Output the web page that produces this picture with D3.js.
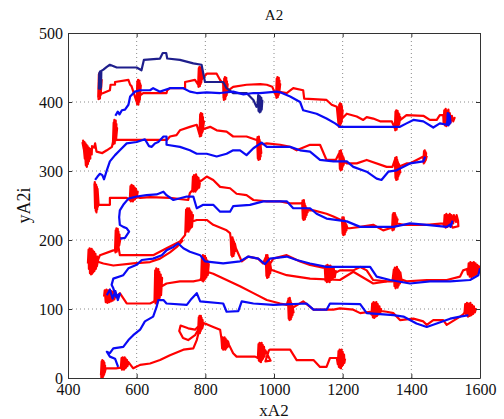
<!DOCTYPE html>
<html><head><meta charset="utf-8">
<script src="https://cdn.jsdelivr.net/npm/d3@7"></script>
<style>body{margin:0;background:#fff}svg{display:block} text{font-family:"Liberation Serif","Times New Roman",serif}</style>
</head><body>
<script>
// ---------- data (x, y in axis units) ----------
const xTicks = [400, 600, 800, 1000, 1200, 1400, 1600];
const yTicks = [0, 100, 200, 300, 400, 500];
const titleText = "A2", xLabelText = "xA2", yLabelText = "yA2i";

const redA = [[488,406],[490,440],[489,404],[492,442],[491,407],[494,438],[493,405],[496,436],[495,410],[498,432],[494,414],[490,430],[497,412],
[503,413],[522,417],[524,425],[537,425],[537,429],[576,432],[581,425],[585,423],
[600,400],[602,430],[601,397],[604,432],[603,399],[606,429],[605,396],[608,431],[607,400],[610,427],[609,403],[612,424],[606,405],[603,420],[611,410],
[619,413],[687,413],[689,417],[697,420],[741,420],[741,429],[770,432],
[779,425],[781,449],[780,422],[783,451],[782,424],[785,448],[784,423],[787,450],[786,426],[789,446],[788,428],[791,442],[785,430],
[804,441],[833,441],[843,432],[852,427],
[853,406],[855,434],[854,403],[857,436],[856,405],[859,433],[858,404],[861,435],[860,408],[863,430],[862,410],[865,426],[859,414],
[881,422],[920,425],[960,426],[979,425],[995,422],
[1006,409],[1008,434],[1007,406],[1010,436],[1009,408],[1012,433],[1011,407],[1014,435],[1013,410],[1016,431],[1015,412],[1018,426],[1012,415],
[1037,413],[1056,420],[1085,417],[1088,405],[1153,403],[1168,396],[1183,393],
[1188,368],[1190,396],[1189,364],[1192,398],[1191,366],[1194,395],[1193,365],[1196,397],[1195,369],[1198,393],[1197,371],[1200,388],[1194,374],
[1212,383],[1241,379],[1260,374],[1270,378],[1289,376],[1309,372],[1343,372],
[1352,362],[1354,386],[1353,359],[1356,388],[1355,361],[1358,385],[1357,360],[1360,387],[1359,363],[1362,384],[1361,365],[1365,382],[1364,367],[1368,378],[1358,370],
[1386,381],[1435,380],[1454,374],[1474,374],[1483,381],[1493,381],
[1494,370],[1496,388],[1498,366],[1500,390],[1502,365],[1504,387],[1506,367],[1508,389],[1510,368],[1512,384],[1514,370],[1518,380],[1522,372],[1526,377],[1516,374],[1506,376]];

const redB = [[442,342],[446,332],[444,344],[449,318],[448,342],[452,308],[451,340],[455,306],[454,338],[458,310],[457,336],[461,314],[460,334],[465,318],[464,332],[469,324],[470,336],[476,334],
[479,340],[483,328],[500,326],[513,330],[528,335],
[531,342],[533,370],[532,339],[535,374],[534,341],[537,371],[536,340],[539,373],[538,344],[541,368],[540,346],[543,362],[537,350],
[542,345],[551,345],[600,345],[658,345],[688,345],[697,350],[716,352],[726,359],[755,364],[775,367],
[783,353],[785,382],[784,350],[787,384],[786,352],[789,381],[788,351],[791,383],[790,355],[793,378],[792,357],[796,372],[790,360],
[814,364],[833,359],[862,357],[881,350],[920,350],[949,345],
[951,346],[953,318],[952,349],[955,316],[954,347],[957,319],[956,350],[959,317],[958,345],[961,321],[960,342],[963,326],[957,338],
[979,340],[1018,338],[1047,335],[1066,330],[1105,338],[1134,338],[1153,316],[1180,316],
[1190,326],[1192,303],[1191,329],[1194,301],[1193,327],[1196,304],[1195,330],[1198,302],[1197,326],[1200,306],[1199,323],[1203,309],[1202,320],[1206,312],[1197,316],
[1212,311],[1241,311],[1270,316],[1328,306],[1345,306],
[1352,316],[1354,290],[1353,319],[1356,287],[1355,317],[1358,291],[1357,320],[1360,288],[1359,316],[1362,292],[1361,313],[1365,295],[1364,310],[1368,298],[1358,305],
[1386,311],[1396,311],[1435,321],
[1435,313],[1437,329],[1436,311],[1439,330],[1438,312],[1441,328],[1440,314],[1443,326],[1442,316],[1445,322]];

const redC = [[477,282],[479,246],[478,284],[481,242],[480,281],[483,240],[482,280],[485,244],[484,277],[487,248],[486,274],[489,252],[484,268],
[487,251],[522,251],[522,261],[571,261],
[580,258],[582,278],[583,256],[585,280],[586,257],[588,279],[589,256],[591,278],[592,258],[594,276],[595,259],[598,274],[600,261],[603,270],[590,264],
[610,261],[639,262],[697,261],[750,258],[755,268],
[762,272],[764,292],[765,270],[767,294],[768,271],[770,293],[771,270],[773,295],[774,272],[776,292],[777,274],[780,290],[782,276],[785,286],[772,280],
[804,292],[823,287],[843,277],[872,275],[891,267],[920,265],[940,258],[979,256],[1018,256],[1047,253],[1076,253],
[1082,254],[1084,231],[1083,257],[1086,229],[1085,255],[1088,232],[1087,258],[1090,230],[1089,253],[1092,233],[1091,250],[1095,236],[1094,247],[1098,240],[1088,244],
[1115,243],[1153,238],[1173,234],[1195,229],
[1198,230],[1200,209],[1199,233],[1202,207],[1201,231],[1204,210],[1203,233],[1206,208],[1205,229],[1208,211],[1207,226],[1211,214],[1210,223],[1214,217],
[1221,217],[1251,219],[1289,222],[1318,214],[1338,217],
[1344,217],[1346,237],[1345,214],[1348,239],[1347,216],[1350,238],[1349,215],[1352,239],[1351,218],[1354,236],[1353,220],[1357,233],[1356,222],[1360,230],[1350,225],
[1377,222],[1445,222],[1493,224],
[1495,220],[1497,236],[1500,218],[1502,238],[1505,219],[1507,236],[1510,220],[1512,238],[1515,222],[1517,236],[1522,224],[1524,236],[1530,226],[1532,236],[1536,228],[1537,220],[1520,218],[1510,228]];

const redD = [[458,166],[460,186],[461,158],[463,188],[464,152],[466,186],[467,150],[469,187],[470,151],[472,185],[473,153],[476,183],[477,155],[480,180],[481,158],[485,176],[484,162],[488,172],
[493,178],[532,185],
[537,185],[539,214],[538,182],[541,217],[540,184],[543,215],[542,183],[545,216],[544,187],[547,212],[546,189],[550,208],[549,192],[553,203],[545,196],
[551,178],[600,178],[648,178],[687,188],[726,198],[741,207],
[742,214],[744,244],[745,212],[747,246],[748,213],[750,245],[751,212],[753,246],[754,215],[756,243],[757,217],[760,240],[761,219],[764,236],[752,225],
[775,229],[804,229],[823,222],[862,214],[872,210],
[874,202],[876,178],[875,204],[878,176],[877,203],[880,179],[879,204],[882,177],[881,201],[884,180],[883,198],[887,184],[886,195],[889,188],
[906,169],[925,176],[954,173],[968,166],
[976,175],[978,148],[977,178],[980,145],[979,176],[982,147],[981,178],[984,146],[983,174],[986,149],[985,171],[989,152],[988,168],[992,156],[984,162],
[998,173],[1037,178],[1076,169],[1105,164],[1143,160],
[1148,160],[1150,141],[1152,163],[1154,139],[1156,164],[1158,140],[1160,162],[1162,139],[1164,163],[1166,142],[1168,161],[1171,144],[1174,159],[1177,146],[1180,155],[1170,150],
[1192,156],[1231,156],[1251,161],[1270,156],[1289,142],[1328,140],[1345,140],
[1349,157],[1351,133],[1352,160],[1354,130],[1355,159],[1357,132],[1358,161],[1360,131],[1361,158],[1363,134],[1364,156],[1367,137],[1368,153],[1372,140],[1360,145],
[1386,140],[1445,142],[1503,142],[1542,147],[1551,156],[1562,158],
[1565,150],[1567,166],[1570,147],[1572,168],[1575,146],[1577,167],[1580,148],[1582,168],[1585,149],[1587,166],[1590,150],[1592,164],[1595,152],[1597,162],[1600,156],[1588,157]];

const redE = [[478,170],[503,166],[532,163],[590,166],[639,168],[668,173],[697,182],[717,190],[735,200]];

const redF = [[505,118],[507,127],[510,110],[512,128],[515,109],[517,127],[520,110],[522,128],[525,111],[527,126],[530,112],[532,125],[535,114],[537,122],[540,117],
[551,123],[571,108],[639,108],[648,110],
[652,112],[654,156],[655,108],[657,159],[658,110],[660,157],[661,109],[663,158],[664,113],[666,154],[667,116],[670,150],[671,120],[674,145],[663,130],
[687,137],[726,140],[765,140],[785,142],
[788,145],[790,175],[791,141],[793,178],[794,140],[796,176],[797,142],[799,177],[800,144],[802,174],[803,146],[806,170],[807,149],[810,165],[798,155],
[823,151],[862,142],[901,133],[940,123],[979,113],[1018,108],[1037,106],
[1041,112],[1043,86],[1042,115],[1045,84],[1044,114],[1047,87],[1046,116],[1049,85],[1048,112],[1051,88],[1050,109],[1054,91],[1053,106],[1057,95],[1048,100],
[1085,111],[1115,99],[1173,99],[1192,101],[1231,99],[1251,94],[1280,96],
[1284,92],[1286,108],[1288,88],[1290,110],[1292,87],[1294,109],[1296,89],[1298,110],[1300,90],[1302,107],[1304,92],[1307,104],[1309,94],[1312,100],[1298,98],
[1328,96],[1348,94],[1367,84],[1406,86],[1435,82],[1445,77],[1464,84],[1493,84],[1503,77],[1542,89],[1551,92],
[1555,95],[1557,107],[1560,91],[1562,109],[1565,89],[1567,108],[1570,90],[1572,109],[1575,91],[1577,106],[1580,93],[1582,104],[1585,95],[1588,100],[1572,98]];

const redG = [[985,158],[1037,149],[1105,144],[1192,142],[1231,154],[1289,137],[1328,140]];

const redH = [[496,4],[498,24],[497,1],[500,26],[499,2],[502,25],[501,0],[504,24],[503,3],[506,22],[505,5],[508,18],[507,8],[510,14],
[540,14],
[554,15],[556,29],[557,12],[559,30],[560,13],[562,29],[563,12],[565,30],[566,14],[568,28],[569,15],[572,26],[573,17],[576,23],
[590,14],[610,19],[639,21],[668,26],[697,33],[736,41],[765,43],[775,55],[780,65],
[779,68],[781,88],[780,65],[783,90],[782,66],[785,89],[784,65],[787,90],[786,68],[789,87],[788,70],[792,84],[791,72],[795,80],
[785,75],[770,62],[750,55],[735,58],[724,68],[728,76],[750,72],[770,70],[790,80],
[804,78],[823,74],[843,70],
[847,57],[849,43],[850,59],[852,41],[853,58],[855,42],[856,59],[858,41],[859,57],[861,43],[862,55],[865,45],[866,53],[869,48],
[881,36],[891,31],[945,31],
[953,29],[955,49],[956,25],[958,51],[959,24],[961,50],[962,23],[964,51],[965,26],[967,48],[968,28],[971,45],[972,31],[975,40],
[990,25],[975,24],[985,40],
[988,41],[1047,41],[1066,26],[1115,26],[1134,16],[1153,16],[1163,29],[1183,29],
[1186,20],[1188,39],[1189,16],[1191,41],[1192,15],[1194,40],[1195,14],[1197,41],[1198,17],[1200,38],[1201,19],[1204,34],[1205,22],[1207,28]];

const navyA = [[490,418],[491,442],[492,420],[493,444],[494,419],[495,440],[496,421],[497,443],[492,430],
[494,444],[503,447],[513,451],[522,454],[542,450],[600,450],[614,446],[621,461],[668,463],[676,471],[686,471],[689,463],[726,461],[765,456],[789,454],[799,429],[852,429],[862,420],[881,413],[920,413],[940,403],[949,393],
[952,395],[954,410],[955,387],[957,409],[958,385],[960,408],[961,386],[963,406],[964,389],[966,402],[960,395]];

const blueB = [[538,380],[545,386],[550,382],[557,388],[566,389],[576,396],[581,408],[595,415],[610,417],[639,417],[648,420],[668,415],[697,420],[726,420],[736,420],[755,415],[775,413],[804,414],[843,413],[881,415],[911,411],[940,413],[959,413],[1008,415],[1018,414],[1047,408],[1076,400],[1085,388],[1124,383],[1153,376],[1178,369],[1192,364],[1299,364],[1367,364],[1386,369],[1406,374],[1435,372],[1464,363],[1483,369],[1503,367],[1508,381],
[1505,372],[1506,384],[1508,366],[1509,383],[1511,368],[1512,380],[1514,370],[1508,375]];

const blueC = [[479,287],[486,292],[493,296],[500,294],[505,288],[513,301],[522,314],[537,323],[551,330],[571,340],[600,342],[624,346],[636,336],[644,335],[653,340],[663,342],[678,350],[687,350],[687,338],[726,335],[755,330],[775,325],[804,325],[833,321],[862,325],[881,330],[901,330],[920,323],[940,333],[964,341],[979,335],[1047,335],[1076,330],[1105,328],[1134,316],[1173,314],[1212,314],[1231,306],[1270,299],[1299,289],[1313,287],[1333,299],[1357,301],[1396,311],[1435,314],[1440,321]];

const blueD = [[552,202],[566,203],[578,212],[571,217],[561,219],[551,222],[549,233],[551,243],[561,251],[576,260],[600,263],[629,265],[658,266],[678,270],[687,265],[707,258],[746,263],[765,263],[775,246],[794,251],[823,251],[843,241],[872,241],[881,249],[930,251],[969,256],[1037,256],[1056,246],[1105,246],[1124,238],[1153,231],[1212,227],[1251,219],[1348,219],[1396,224],[1445,222],[1503,219],[1518,224],[1514,219],[1520,228]];

const blueE = [[513,120],[522,128],[530,115],[538,126],[545,113],[551,122],[540,118],[532,130],[527,135],[532,144],[561,149],[576,159],[600,164],[615,171],[648,173],[673,178],[687,185],[707,190],[721,195],[736,188],[755,183],[785,178],[799,169],[852,166],[901,169],[925,176],[954,173],[974,165],[988,173],[1037,176],[1066,171],[1105,166],[1153,161],[1221,161],[1280,161],[1299,147],[1338,142],[1396,137],[1454,140],[1513,140],[1571,142],[1595,149],[1600,159]];

const blueF = [[546,16],[537,28],[522,31],[513,38],[522,36],[532,43],[561,45],[576,55],[590,62],[610,70],[624,82],[648,89],[658,103],[663,113],[678,113],[687,108],[746,106],[760,115],[775,123],[785,111],[852,108],[862,96],[896,97],[906,111],[940,108],[998,106],[1095,108],[1115,99],[1153,99],[1163,108],[1251,107],[1270,94],[1348,91],[1377,89],[1415,79],[1445,74],[1474,79],[1513,86],[1542,89],[1566,91]];

const redSeries = [redA, redB, redC, redD, redE, redF, redG, redH];
const blueSeries = [blueB, blueC, blueD, blueE, blueF];
const navySeries = [navyA];

// ---------- drawing ----------
const W = 504, H = 419;
const m = {left: 68, right: 24, top: 33, bottom: 41};
const svg = d3.select("body").append("svg").attr("width", W).attr("height", H);
const x = d3.scaleLinear().domain([400, 1600]).range([m.left, W - m.right]);
const y = d3.scaleLinear().domain([0, 500]).range([H - m.bottom, m.top]);
const font = "Liberation Serif, Times New Roman, serif";

// grid
const g = svg.append("g");
g.selectAll(".gx").data(xTicks.slice(1, -1)).enter().append("line")
  .attr("x1", d => x(d)).attr("x2", d => x(d)).attr("y1", y(0)).attr("y2", y(500))
  .attr("stroke", "#8a8a8a").attr("stroke-width", 1).attr("stroke-dasharray", "1,3");
g.selectAll(".gy").data(yTicks.slice(1, -1)).enter().append("line")
  .attr("y1", d => y(d)).attr("y2", d => y(d)).attr("x1", x(400)).attr("x2", x(1600))
  .attr("stroke", "#8a8a8a").attr("stroke-width", 1).attr("stroke-dasharray", "1,3");

svg.append("clipPath").attr("id", "clip").append("rect")
  .attr("x", x(400)).attr("y", y(500)).attr("width", x(1600) - x(400)).attr("height", y(0) - y(500));

const line = d3.line().x(d => x(d[0])).y(d => y(d[1]));
const plot = svg.append("g").attr("clip-path", "url(#clip)");
plot.selectAll(".r").data(redSeries).enter().append("path")
  .attr("d", line).attr("fill", "none").attr("stroke", "#ff0000").attr("stroke-width", 2.2)
  .attr("stroke-linejoin", "round");
plot.selectAll(".n").data(navySeries).enter().append("path")
  .attr("d", line).attr("fill", "none").attr("stroke", "#1e1e8c").attr("stroke-width", 2.2)
  .attr("stroke-linejoin", "round");
plot.selectAll(".b").data(blueSeries).enter().append("path")
  .attr("d", line).attr("fill", "none").attr("stroke", "#0a0af5").attr("stroke-width", 2.2)
  .attr("stroke-linejoin", "round");

// axes (MATLAB box style, inward ticks)
const fmt = d3.format("d");
const axB = d3.axisBottom(x).tickValues(xTicks).tickFormat(fmt).tickSizeInner(-4).tickSizeOuter(0).tickPadding(6);
const axT = d3.axisTop(x).tickValues(xTicks).tickSizeInner(-4).tickSizeOuter(0).tickFormat("");
const axL = d3.axisLeft(y).tickValues(yTicks).tickFormat(fmt).tickSizeInner(-4).tickSizeOuter(0).tickPadding(5);
const axR = d3.axisRight(y).tickValues(yTicks).tickSizeInner(-4).tickSizeOuter(0).tickFormat("");
function style(sel) {
  sel.attr("font-family", font).attr("font-size", 16);
  sel.selectAll("path").attr("stroke", "#333").attr("stroke-width", 1);
  sel.selectAll("line").attr("stroke", "#333");
  sel.selectAll("text").attr("fill", "#111").attr("font-family", font).attr("font-size", 16);
}
svg.append("g").attr("transform", `translate(0,${y(0)})`).call(axB).call(style);
svg.append("g").attr("transform", `translate(0,${y(500)})`).call(axT).call(style);
svg.append("g").attr("transform", `translate(${x(400)},0)`).call(axL).call(style);
svg.append("g").attr("transform", `translate(${x(1600)},0)`).call(axR).call(style);

// labels
svg.append("text").attr("x", (x(400) + x(1600)) / 2).attr("y", 20).attr("text-anchor", "middle")
  .attr("font-family", font).attr("font-size", 15).attr("fill", "#111").text(titleText);
svg.append("text").attr("x", (x(400) + x(1600)) / 2).attr("y", 416).attr("text-anchor", "middle")
  .attr("font-family", font).attr("font-size", 17).attr("fill", "#111").text(xLabelText);
svg.append("text").attr("transform", `translate(30,${(y(0) + y(500)) / 2}) rotate(-90)`).attr("text-anchor", "middle")
  .attr("font-family", font).attr("font-size", 18).attr("fill", "#111").text(yLabelText);
</script>
</body></html>
